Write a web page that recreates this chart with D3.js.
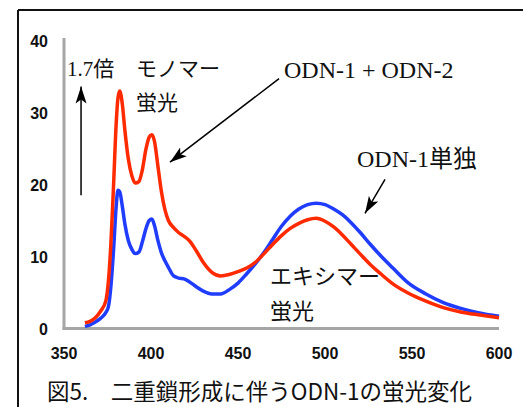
<!DOCTYPE html>
<html lang="ja">
<head>
<meta charset="UTF-8">
<title>ODN-1 蛍光スペクトル</title>
<style>
  html, body { margin: 0; padding: 0; background: #fff; }
  svg { display: block; }
  .tick-label { font-family: "Liberation Sans", Arial, sans-serif; font-weight: bold; font-size: 16px; fill: #111; }
  .jp { font-family: "Noto Sans CJK JP", sans-serif; fill: #111; }
  .serif { font-family: "Liberation Serif", "Times New Roman", "Noto Sans CJK JP", serif; fill: #111; }
</style>
</head>
<body>
<div id="chart"></div>
<script src="https://cdn.jsdelivr.net/npm/d3@7/dist/d3.min.js"></script>
<script>
// 波長 (nm)
var wavelengths = [362, 365, 368, 371, 374, 375.5, 377, 378.5, 380, 381, 382, 383.5, 385, 387, 389, 391, 393, 395, 397, 399,
  400.5, 402, 404, 406, 408, 410, 413, 416, 419, 422, 426, 430, 435, 440, 445, 450, 455, 460, 465, 470,
  475, 480, 485, 490, 495, 500, 505, 510, 515, 520, 526, 532, 539, 548, 558, 568, 578, 588, 600];
// ODN-1 + ODN-2 (赤)
var duplexValues = [0.8, 1.0, 1.5, 2.4, 3.8, 6.5, 12, 20, 28.5, 32, 33, 31.2, 27.5, 23.5, 21.2, 20.2, 20.4, 22, 24.8, 26.6,
  26.9, 26, 22.5, 19, 16.5, 15, 14, 13.3, 12.8, 12.2, 10.8, 9.2, 7.8, 7.3, 7.5, 7.9, 8.4, 9.2, 10.4, 11.7,
  12.9, 13.9, 14.6, 15.1, 15.3, 14.9, 14.1, 13.0, 11.7, 10.4, 8.9, 7.6, 6.2, 4.9, 3.8, 2.9, 2.3, 1.9, 1.5];
// ODN-1単独 (青)
var singleValues = [0.3, 0.5, 0.9, 1.4, 2.2, 3, 6, 11, 17, 19.2, 19.0, 17, 14.5, 12.2, 11, 10.4, 10.6, 12, 13.8, 15,
  15.2, 14.3, 12.2, 10.5, 9.4, 8.5, 7.3, 7.0, 6.9, 6.5, 5.8, 5.2, 4.8, 4.8, 5.4, 6.3, 7.6, 9.0, 10.6, 12.4,
  14.2, 15.6, 16.6, 17.2, 17.4, 17.2, 16.6, 15.8, 14.7, 13.4, 11.7, 10.1, 8.4, 6.3, 4.8, 3.6, 2.8, 2.2, 1.7];
var xTicks = [350, 400, 450, 500, 550, 600];
var yTicks = [0, 10, 20, 30, 40];

var width = 523, height = 407;

var svg = d3.select('#chart').append('svg')
  .attr('width', width)
  .attr('height', height);

// 矢印
var defs = svg.append('defs');
defs.append('marker')
  .attr('id', 'head')
  .attr('viewBox', '-17 -6 18 12')
  .attr('markerWidth', 18)
  .attr('markerHeight', 12)
  .attr('markerUnits', 'userSpaceOnUse')
  .attr('orient', 'auto')
  .append('path')
  .attr('d', 'M0,0 L-17,-5.5 L-13,0 L-17,5.5 Z')
  .attr('fill', '#000');

// 枠
svg.append('line').attr('x1', 18).attr('y1', 10).attr('x2', width).attr('y2', 10)
  .attr('stroke', '#111').attr('stroke-width', 2);
svg.append('line').attr('x1', 18).attr('y1', 10).attr('x2', 18).attr('y2', height)
  .attr('stroke', '#111').attr('stroke-width', 2);

var x = d3.scaleLinear().domain([350, 600]).range([64, 499]);
var y = d3.scaleLinear().domain([0, 40]).range([328.5, 40.5]);

// 軸 (灰色)
svg.append('line').attr('x1', x(350)).attr('x2', x(350)).attr('y1', 38).attr('y2', y(0) + 1)
  .attr('stroke', '#a6a6a6').attr('stroke-width', 3);
svg.append('line').attr('x1', x(350) - 1.5).attr('x2', x(600)).attr('y1', y(0)).attr('y2', y(0))
  .attr('stroke', '#a6a6a6').attr('stroke-width', 3);

svg.selectAll('.ylab').data(yTicks).enter().append('text')
  .attr('class', 'tick-label')
  .attr('x', 48)
  .attr('y', d => y(d) + 6)
  .attr('text-anchor', 'end')
  .text(d => d);

svg.selectAll('.xlab').data(xTicks).enter().append('text')
  .attr('class', 'tick-label')
  .attr('x', d => x(d))
  .attr('y', 359)
  .attr('text-anchor', 'middle')
  .text(d => d);

var line = d3.line()
  .x(d => x(d[0]))
  .y(d => y(d[1]))
  .curve(d3.curveMonotoneX);

svg.append('path')
  .datum(wavelengths.map((w, i) => [w, singleValues[i]]))
  .attr('d', line)
  .attr('fill', 'none')
  .attr('stroke', '#1f3cff')
  .attr('stroke-width', 3.5)
  .attr('stroke-linejoin', 'round');

svg.append('path')
  .datum(wavelengths.map((w, i) => [w, duplexValues[i]]))
  .attr('d', line)
  .attr('fill', 'none')
  .attr('stroke', '#ff2a00')
  .attr('stroke-width', 3.5)
  .attr('stroke-linejoin', 'round');

// 注釈の矢印
function arrow(x1, y1, x2, y2) {
  svg.append('line')
    .attr('x1', x(x1)).attr('y1', y(y1))
    .attr('x2', x(x2)).attr('y2', y(y2))
    .attr('stroke', '#000').attr('stroke-width', 1.5)
    .attr('marker-end', 'url(#head)');
}
arrow(359.8, 18.5, 359.8, 33.6);
arrow(473.6, 34.7, 410.9, 23.1);
arrow(534.5, 20.7, 523.0, 16.0);

// 注釈テキスト
svg.append('text').attr('class', 'serif').attr('x', 67).attr('y', 76)
  .style('font-size', '21px')
  .html('1.7<tspan style="font-family:\'Noto Sans CJK JP\'">倍</tspan>');
svg.append('text').attr('class', 'jp').attr('x', 136).attr('y', 76).style('font-size', '21px').text('モノマー');
svg.append('text').attr('class', 'jp').attr('x', 136).attr('y', 110).style('font-size', '21px').text('蛍光');
svg.append('text').attr('class', 'serif').attr('x', 284).attr('y', 78).style('font-size', '24px').text('ODN-1 + ODN-2');
svg.append('text').attr('class', 'serif').attr('x', 357).attr('y', 167).style('font-size', '24px')
  .html('ODN-1<tspan style="font-family:\'Noto Sans CJK JP\'">単独</tspan>');
svg.append('text').attr('class', 'jp').attr('x', 270).attr('y', 284).style('font-size', '22px').text('エキシマー');
svg.append('text').attr('class', 'jp').attr('x', 270).attr('y', 319).style('font-size', '22px').text('蛍光');

// キャプション
svg.append('text').attr('class', 'jp').attr('x', 47).attr('y', 400).style('font-size', '22.5px')
  .text('図5.\u3000二重鎖形成に伴うODN-1の蛍光変化');
</script>
</body>
</html>
